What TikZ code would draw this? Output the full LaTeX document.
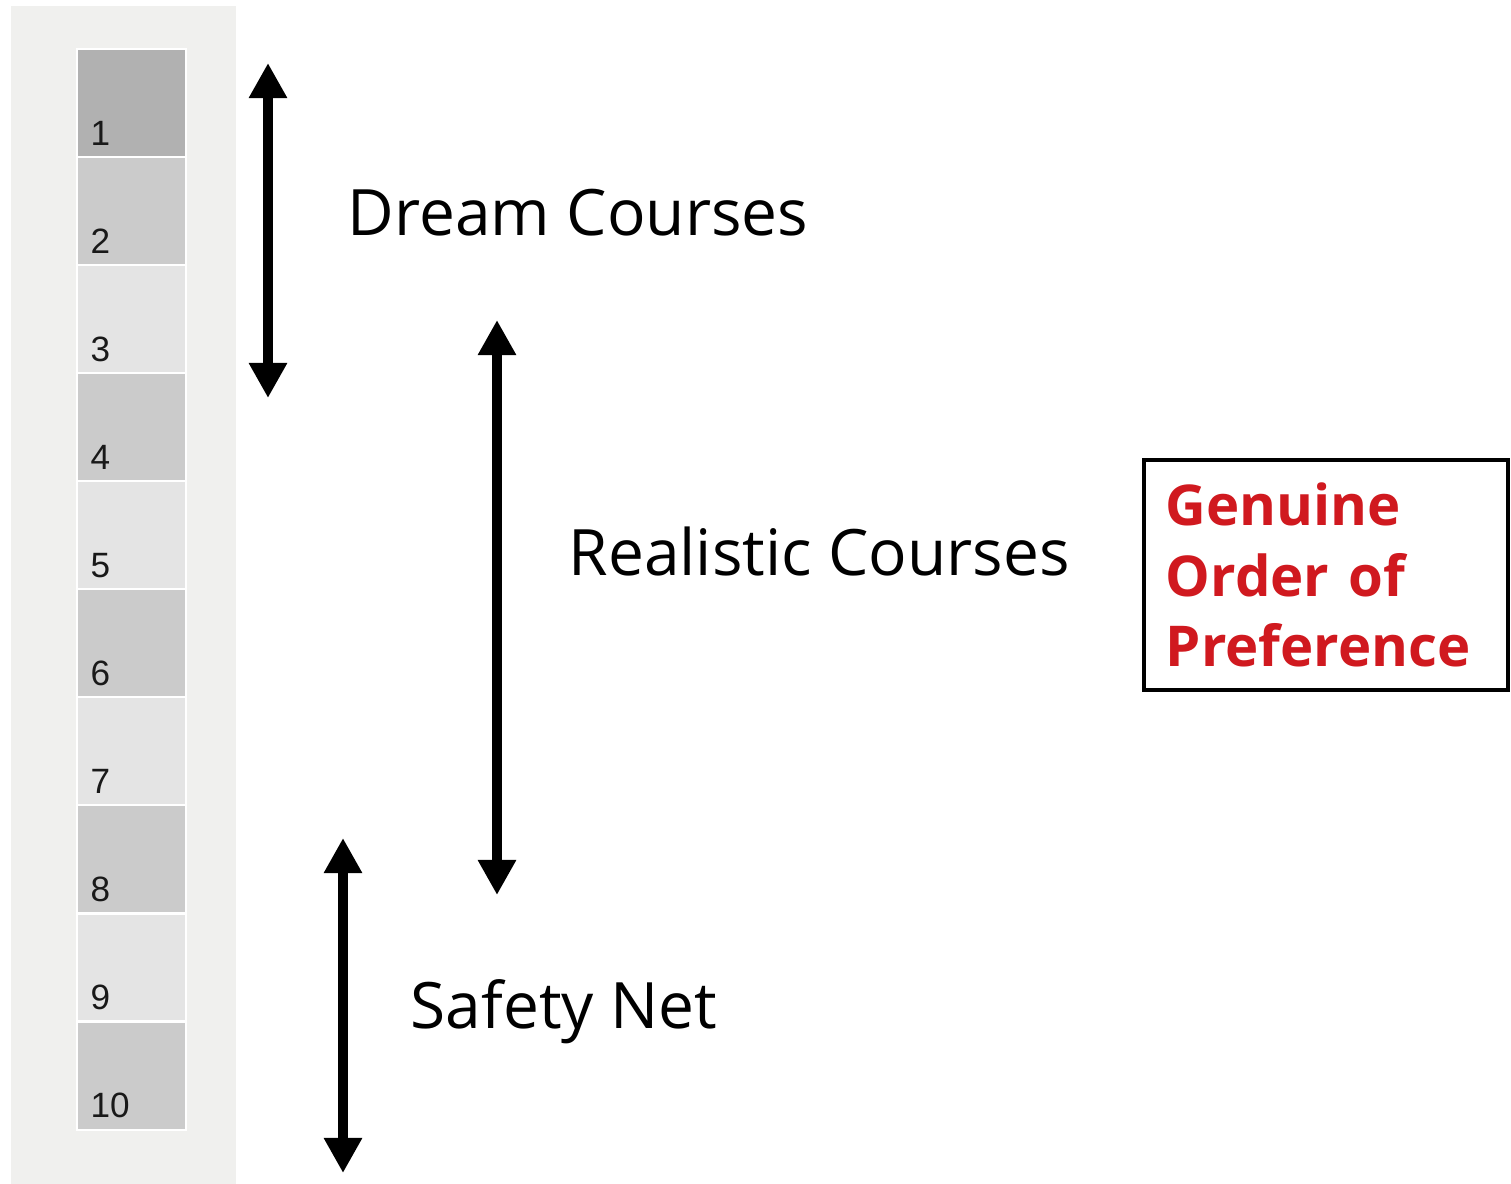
\documentclass[tikz,border=0pt]{standalone}
\usepackage{fontspec}
\setmainfont{Open Sans}
\newfontfamily\numfont{Liberation Sans}
\usetikzlibrary{positioning}
\usetikzlibrary{calc}
\usetikzlibrary{arrows.meta}
\definecolor{panelgrey}{HTML}{F0F0EE}
\definecolor{celldark}{HTML}{B1B1B1}
\definecolor{cellmid}{HTML}{CBCBCB}
\definecolor{celllight}{HTML}{E4E4E4}
\definecolor{prefred}{HTML}{D0191F}
\tikzset{
	cell/.style = {draw = white, line width = 0.6pt, rectangle, inner sep = 0pt, outer sep = 0pt, minimum width = 1.09cm, minimum height = 1.08cm},
	num/.style = {anchor = base west, inner sep = 0pt, font = \numfont\fontsize{10}{12}\selectfont, text = black!90},
	band/.style = {line width = 3.1pt, {Triangle[width=0.36cm,length=0.35cm]}-{Triangle[width=0.36cm,length=0.35cm]}},
	bandlabel/.style = {anchor = base west, inner sep = 0pt, font = \fontsize{18.2}{22}\selectfont},
	prefbox/.style = {draw, line width = 1pt, rectangle, minimum width = 3.64cm, minimum height = 2.30cm, inner xsep = 0.22cm, text width = 3.2cm, align = left, text = prefred, font = \bfseries\fontsize{16}{20}\selectfont}
}
\begin{document}
\begin{tikzpicture}[x = 0.01cm, y = -0.01cm]
		\useasboundingbox (0,0) rectangle (1511,1184);
		\fill[panelgrey] (11,6) rectangle (236,1184);
		% ranked list
		\node[cell, fill = celldark] at (131.5,103) (c1) {};
		\node[cell, fill = cellmid, below = 0cm of c1] (c2) {};
		\node[cell, fill = celllight, below = 0cm of c2] (c3) {};
		\node[cell, fill = cellmid, below = 0cm of c3] (c4) {};
		\node[cell, fill = celllight, below = 0cm of c4] (c5) {};
		\node[cell, fill = cellmid, below = 0cm of c5] (c6) {};
		\node[cell, fill = celllight, below = 0cm of c6] (c7) {};
		\node[cell, fill = cellmid, below = 0cm of c7] (c8) {};
		\node[cell, fill = celllight, below = 0cm of c8] (c9) {};
		\node[cell, fill = cellmid, below = 0cm of c9] (c10) {};
		\node[num] at ([shift={(13,-12)}]c1.south west) (n1) {1};
		\node[num] at ([shift={(13,-12)}]c2.south west) (n2) {2};
		\node[num] at ([shift={(13,-12)}]c3.south west) (n3) {3};
		\node[num] at ([shift={(13,-12)}]c4.south west) (n4) {4};
		\node[num] at ([shift={(13,-12)}]c5.south west) (n5) {5};
		\node[num] at ([shift={(13,-12)}]c6.south west) (n6) {6};
		\node[num] at ([shift={(13,-12)}]c7.south west) (n7) {7};
		\node[num] at ([shift={(13,-12)}]c8.south west) (n8) {8};
		\node[num] at ([shift={(13,-12)}]c9.south west) (n9) {9};
		\node[num] at ([shift={(13,-12)}]c10.south west) (n10) {10};
		% bands
		\coordinate (dtop) at (268,63);
		\coordinate (dbot) at (268,398);
		\coordinate (rtop) at (497,320);
		\coordinate (rbot) at (497,895);
		\coordinate (stop) at (343,838);
		\coordinate (sbot) at (343,1173);
		\draw[band] (dtop) -- (dbot);
		\draw[band] (rtop) -- (rbot);
		\draw[band] (stop) -- (sbot);
		\node[bandlabel] at (347,235) (dream) {Dream Courses};
		\node[bandlabel] at (568,575) (real) {Realistic Courses};
		\node[bandlabel] at (410,1028) (safe) {Safety Net};
		\node[prefbox] at (1326,575) (pref) {Genuine\\Order of\\Preference};
	\end{tikzpicture}
\end{document}
